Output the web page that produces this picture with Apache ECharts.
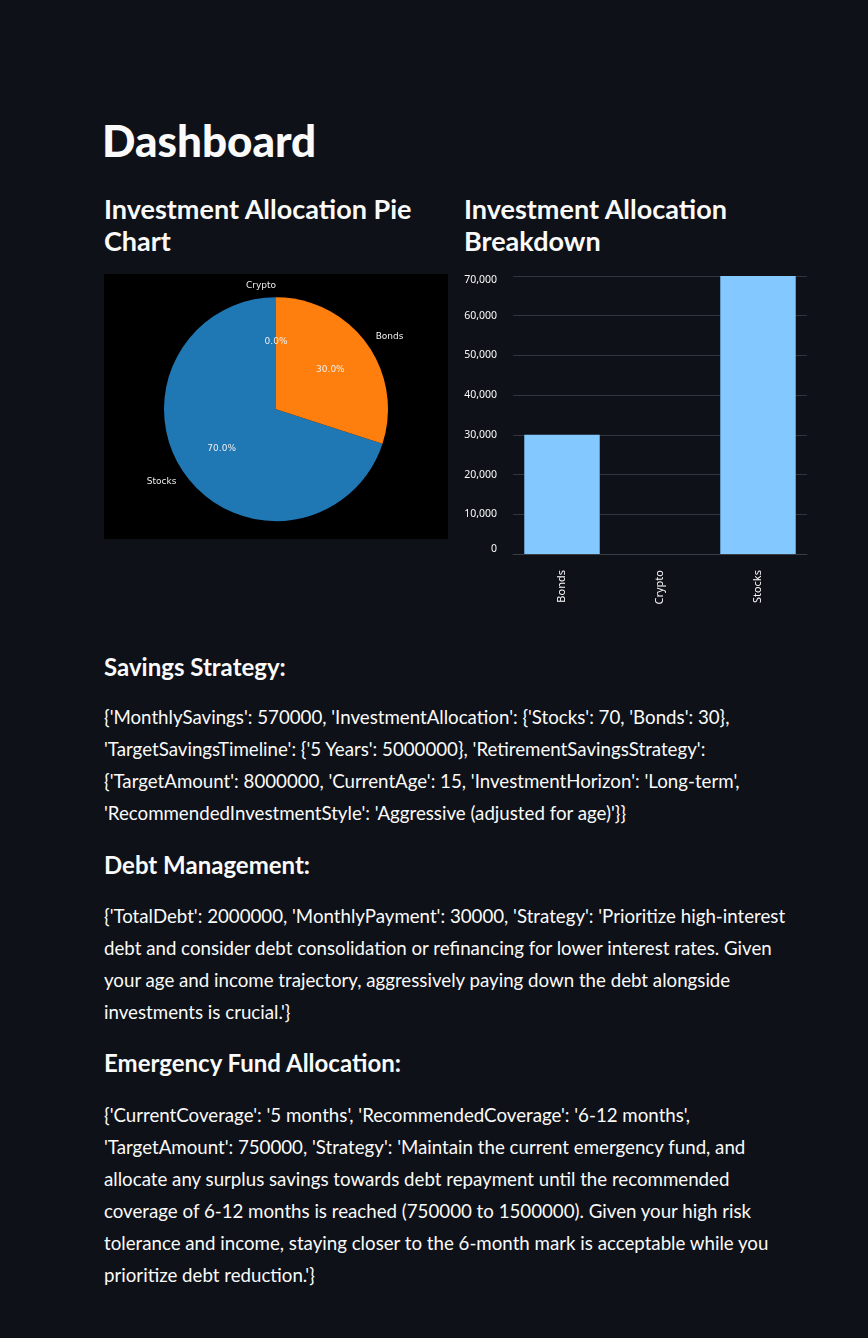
<!DOCTYPE html>
<html>
<head>
<meta charset="utf-8">
<script src="https://cdn.jsdelivr.net/npm/echarts@6/dist/echarts.min.js"></script>
<style>
  html, body { margin: 0; padding: 0; background: #0e1117; }
  body { width: 868px; height: 1338px; position: relative; overflow: hidden; color: #fafafa; font-family: Lato, "Noto Sans", sans-serif; }
  .abs { position: absolute; white-space: nowrap; }
  .h1 { font-size: 44px; font-weight: 900; line-height: 50px; }
  .h3 { font-size: 27px; font-weight: 700; line-height: 32px; }
  .h5 { font-size: 24px; font-weight: 700; line-height: 30px; }
  .p  { font-size: 18.7px; line-height: 32px; }
  #pie { position: absolute; left: 104px; top: 274px; width: 344px; height: 265px; background: #000; }
  #bar { position: absolute; left: 460px; top: 265px; width: 360px; height: 345px; }
</style>
</head>
<body>
<div id="pie"></div>
<div id="bar"></div>
<script>
// ---- data ----
const pageTitle = 'Dashboard';
const pieTitleLines = ['Investment Allocation Pie', 'Chart'];
const barTitleLines = ['Investment Allocation', 'Breakdown'];
const pieLabels = ['Stocks', 'Bonds', 'Crypto'];
const pieValues = [70, 30, 0];
const pieColors = ['#1f77b4', '#ff7f0e', '#2ca02c'];
const barCategories = ['Bonds', 'Crypto', 'Stocks'];
const barValues = [30000, 0, 70000];
const yMin = 0, yMax = 70000, yStep = 10000;

const savingsTitle = 'Savings Strategy:';
const savingsLines = [
  "{'MonthlySavings': 570000, 'InvestmentAllocation': {'Stocks': 70, 'Bonds': 30},",
  "'TargetSavingsTimeline': {'5 Years': 5000000}, 'RetirementSavingsStrategy':",
  "{'TargetAmount': 8000000, 'CurrentAge': 15, 'InvestmentHorizon': 'Long-term',",
  "'RecommendedInvestmentStyle': 'Aggressive (adjusted for age)'}}"
];
const debtTitle = 'Debt Management:';
const debtLines = [
  "{'TotalDebt': 2000000, 'MonthlyPayment': 30000, 'Strategy': 'Prioritize high-interest",
  "debt and consider debt consolidation or refinancing for lower interest rates. Given",
  "your age and income trajectory, aggressively paying down the debt alongside",
  "investments is crucial.'}"
];
const emergencyTitle = 'Emergency Fund Allocation:';
const emergencyLines = [
  "{'CurrentCoverage': '5 months', 'RecommendedCoverage': '6-12 months',",
  "'TargetAmount': 750000, 'Strategy': 'Maintain the current emergency fund, and",
  "allocate any surplus savings towards debt repayment until the recommended",
  "coverage of 6-12 months is reached (750000 to 1500000). Given your high risk",
  "tolerance and income, staying closer to the 6-month mark is acceptable while you",
  "prioritize debt reduction.'}"
];

// ---- text layout ----
function addLines(lines, cls, left, firstCenter, lh) {
  lines.forEach((t, i) => {
    const d = document.createElement('div');
    d.className = 'abs ' + cls;
    d.textContent = t;
    d.style.left = left + 'px';
    d.style.top = (firstCenter + i * lh - lh / 2) + 'px';
    d.style.lineHeight = lh + 'px';
    document.body.appendChild(d);
  });
}
addLines([pageTitle], 'h1', 102, 140, 50);
addLines(pieTitleLines, 'h3', 104, 209, 32);
addLines(barTitleLines, 'h3', 464, 209, 32);
addLines([savingsTitle], 'h5', 104, 667, 30);
addLines(savingsLines, 'p', 104, 717, 32);
addLines([debtTitle], 'h5', 104, 865, 30);
addLines(debtLines, 'p', 104, 916, 32);
addLines([emergencyTitle], 'h5', 104, 1063, 30);
addLines(emergencyLines, 'p', 104, 1115, 32);

// ---- pie chart ----
const R = 112;
const pieCenter = ['50%', '51%'];
const pieTotal = pieValues.reduce((a, b) => a + b, 0);
function pieData(transparent) {
  return pieLabels.map((n, i) => ({
    name: n, value: pieValues[i],
    itemStyle: { color: transparent ? 'rgba(0,0,0,0)' : pieColors[i] }
  }));
}
const pieBase = {
  type: 'pie', center: pieCenter, startAngle: 90, clockwise: false,
  silent: true, avoidLabelOverlap: false, emphasis: { disabled: true },
  itemStyle: { borderWidth: 0 }
};
const pieChart = echarts.init(document.getElementById('pie'), null, { renderer: 'canvas' });
pieChart.setOption({
  animation: false,
  backgroundColor: '#000000',
  series: [
    Object.assign({}, pieBase, {
      radius: [0, R], data: pieData(false),
      label: { show: false }, labelLine: { show: false }
    }),
    Object.assign({}, pieBase, {
      radius: [0, 1.2 * R - 6], data: pieData(true),
      label: {
        show: true, position: 'inside', rotate: 0,
        formatter: p => (p.value / pieTotal * 100).toFixed(1) + '%',
        color: '#eeeeee', fontFamily: 'DejaVu Sans', fontSize: 9
      },
      labelLine: { show: false }
    }),
    Object.assign({}, pieBase, {
      radius: [0, R], data: pieData(true),
      label: {
        show: true, position: 'outside', formatter: '{b}',
        distanceToLabelLine: 0,
        color: '#eeeeee', fontFamily: 'DejaVu Sans', fontSize: 9
      },
      labelLine: { show: false, length: 0.1 * R, length2: 0 }
    })
  ]
});

// ---- bar chart ----
const barChart = echarts.init(document.getElementById('bar'), null, { renderer: 'canvas' });
barChart.setOption({
  animation: false,
  grid: { left: 53, right: 13, top: 11, bottom: 56 },
  xAxis: {
    type: 'category', data: barCategories,
    axisLine: { show: true, lineStyle: { color: '#3a3d46', width: 1 } },
    axisTick: { show: false },
    axisLabel: { rotate: 90, color: '#fafafa', fontSize: 11, margin: 16, fontFamily: '"Noto Sans", sans-serif' }
  },
  yAxis: {
    type: 'value', min: yMin, max: yMax, interval: yStep,
    axisLine: { show: false }, axisTick: { show: false },
    splitLine: { lineStyle: { color: '#31333f', width: 1 } },
    axisLabel: {
      color: '#fafafa', fontSize: 10.5, margin: 16, fontFamily: '"Noto Sans", sans-serif',
      formatter: v => {
        const s = v.toLocaleString('en-US');
        if (v === yMax) return '{top|' + s + '}';
        if (v === yMin) return '{bot|' + s + '}';
        return s;
      },
      rich: {
        top: { padding: [9, 0, 0, 0], color: '#fafafa', fontSize: 10.5, fontFamily: '"Noto Sans", sans-serif' },
        bot: { padding: [0, 0, 9, 0], color: '#fafafa', fontSize: 10.5, fontFamily: '"Noto Sans", sans-serif' }
      }
    }
  },
  series: [{
    type: 'bar', data: barValues, barCategoryGap: '23%',
    itemStyle: { color: '#83c9ff' }, silent: true
  }]
});
</script>
</body>
</html>
